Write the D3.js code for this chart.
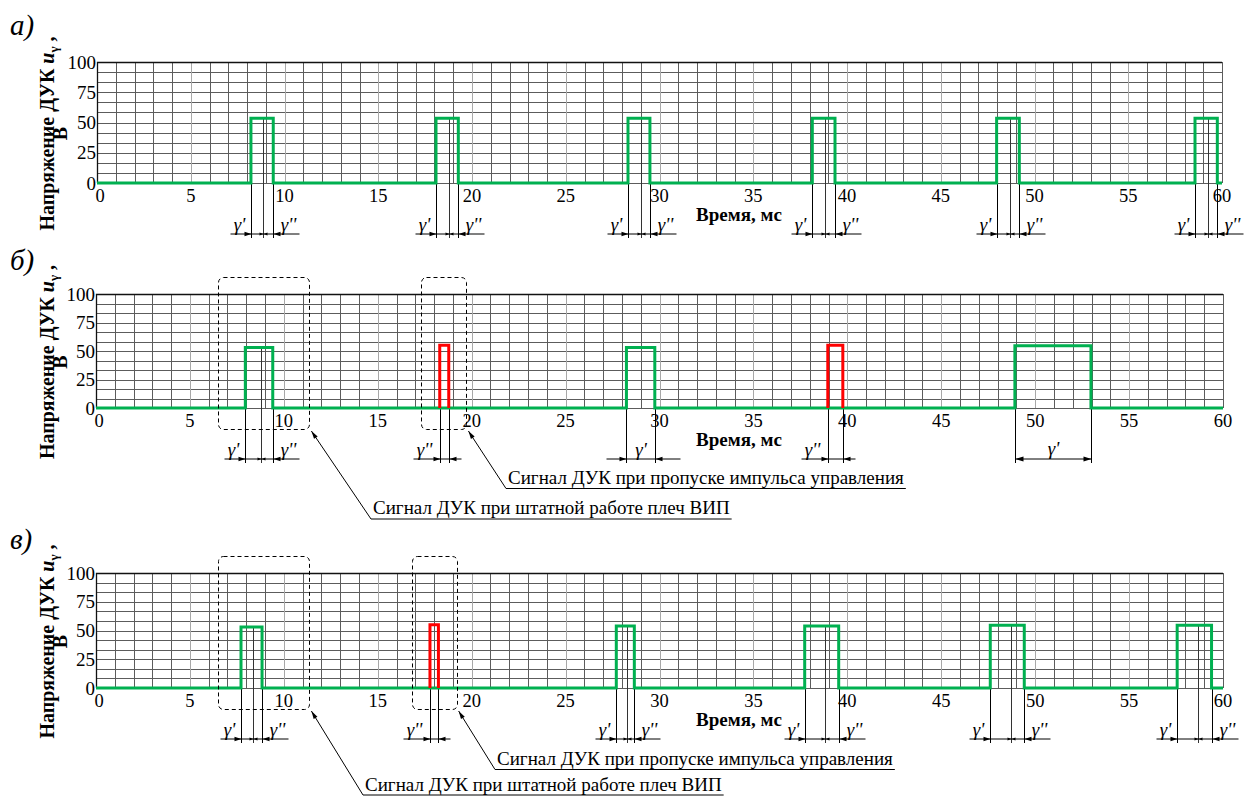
<!DOCTYPE html>
<html>
<head>
<meta charset="utf-8">
<script src="https://cdn.jsdelivr.net/npm/d3@7/dist/d3.min.js"></script>
<style>
  html, body { margin: 0; padding: 0; background: #fff; }
</style>
</head>
<body>
<svg id="chart" width="1257" height="798"></svg>
<script>
// ─── Data ─────────────────────────────────────────────────────────────────────
const xTicks = [0, 5, 10, 15, 20, 25, 30, 35, 40, 45, 50, 55, 60];
const yTicks = [0, 25, 50, 75, 100];
const gridRows = 12;   // 100 V split into 12 rows
const gridCols = 60;   // one column per ms

// pulses: start / end (ms), middle mark (ms), height (V), colour, how the γ dims are drawn
const pulsesA = [
  { t0: 8.21,  t1: 9.40,  mid: 8.87,  v: 53.5, c: 'g', dim: 'split' },
  { t0: 18.08, t1: 19.27, mid: 18.77, v: 53.5, c: 'g', dim: 'split' },
  { t0: 28.32, t1: 29.49, mid: 29.00, v: 53.5, c: 'g', dim: 'split' },
  { t0: 38.15, t1: 39.36, mid: 38.83, v: 53.5, c: 'g', dim: 'split' },
  { t0: 47.98, t1: 49.19, mid: 48.69, v: 53.5, c: 'g', dim: 'split' },
  { t0: 58.56, t1: 59.75, mid: 59.24, v: 53.5, c: 'g', dim: 'split' }
];
const pulsesB = [
  { t0: 7.95,  t1: 9.41,  mid: 8.79, v: 53, c: 'g', dim: 'split' },
  { t0: 18.30, t1: 18.78, mid: null, v: 55, c: 'r', dim: 'left2' },
  { t0: 28.24, t1: 29.75, mid: null, v: 53, c: 'g', dim: 'inner' },
  { t0: 38.96, t1: 39.76, mid: null, v: 55, c: 'r', dim: 'left2' },
  { t0: 48.92, t1: 52.97, mid: null, v: 54.5, c: 'g', dim: 'span' }
];
const pulsesC = [
  { t0: 7.72,  t1: 8.84,  mid: 8.34,  v: 53,   c: 'g', dim: 'split' },
  { t0: 17.78, t1: 18.23, mid: null,  v: 55,   c: 'r', dim: 'left2' },
  { t0: 27.70, t1: 28.66, mid: 28.25, v: 54,   c: 'g', dim: 'split' },
  { t0: 37.73, t1: 39.54, mid: 38.82, v: 54,   c: 'g', dim: 'split' },
  { t0: 47.61, t1: 49.42, mid: 48.71, v: 54.5, c: 'g', dim: 'split' },
  { t0: 57.56, t1: 59.39, mid: 58.65, v: 54.5, c: 'g', dim: 'split' }
];

// dashed frames (ms range) and the caption each one points to
const boxesB = [
  { x0: 6.51,  x1: 11.36, text: 'Сигнал ДУК при штатной работе плеч ВИП' },
  { x0: 17.32, x1: 19.72, text: 'Сигнал ДУК при пропуске импульса управления' }
];
const boxesC = [
  { x0: 6.51,  x1: 11.36, text: 'Сигнал ДУК при штатной работе плеч ВИП' },
  { x0: 16.81, x1: 19.20, text: 'Сигнал ДУК при пропуске импульса управления' }
];

// ─── Style ────────────────────────────────────────────────────────────────────
const GREEN = '#00b050';
const RED = '#ff0000';
const GRID_MINOR = '#5c5c5c';
const GRID_MAJOR = '#a8a8a8';
const FONT = "'Liberation Serif', 'Times New Roman', serif";

// ─── Layout per panel ─────────────────────────────────────────────────────────
const panels = [
  { letter: 'а)', letterY: 35,  top: 62,  bottom: 183, left: 97, right: 1222, pulses: pulsesA, boxes: [], notes: [] },
  { letter: 'б)', letterY: 270, top: 294, bottom: 408, left: 96, right: 1223, pulses: pulsesB, boxes: boxesB,
    notes: [ { tx: 373, base: 514, ul: 519 }, { tx: 508, base: 484, ul: 488.5 } ] },
  { letter: 'в)', letterY: 549, top: 573, bottom: 688, left: 96, right: 1223, pulses: pulsesC, boxes: boxesC,
    notes: [ { tx: 365, base: 791, ul: 795 }, { tx: 497, base: 765, ul: 769.5 } ] }
];

const svg = d3.select('#chart');
const crisp = v => Math.round(v) + 0.5;

// every text node gets its font through an inline style
function txt(parent, size) {
  return parent.append('text').style('font-family', FONT).style('font-size', size + 'px');
}

function arrowHead(g, tipX, tipY, dx, dy, len, hw) {
  const n = Math.hypot(dx, dy); dx /= n; dy /= n;
  const bx = tipX - dx * len, by = tipY - dy * len;
  g.append('path')
    .attr('d', `M${tipX},${tipY}L${bx - dy * hw},${by + dx * hw}L${bx + dy * hw},${by - dx * hw}Z`)
    .attr('fill', '#000');
}

function gammaText(g, x, y, primes) {
  txt(g, 19)
    .attr('x', x).attr('y', y)
    .attr('text-anchor', 'middle')
    .style('font-style', 'italic')
    .text('γ' + primes);
}

function drawPanel(p) {
  const x = d3.scaleLinear().domain([0, 60]).range([p.left, p.right]);
  const y = d3.scaleLinear().domain([0, 100]).range([p.bottom, p.top]);
  const g = svg.append('g');

  // grid
  const cols = d3.range(0, gridCols + 1);
  const rows = d3.range(0, gridRows + 1).map(i => i * 100 / gridRows);
  g.append('g').selectAll('line').data(rows).join('line')
    .attr('x1', x(0)).attr('x2', x(60))
    .attr('y1', d => crisp(y(d))).attr('y2', d => crisp(y(d)))
    .attr('stroke', GRID_MINOR).attr('stroke-width', 1);
  g.append('g').selectAll('line').data(cols).join('line')
    .attr('x1', d => crisp(x(d))).attr('x2', d => crisp(x(d)))
    .attr('y1', y(100)).attr('y2', y(0))
    .attr('stroke', d => (d % 5 === 0 && d !== 0 && d !== 60) ? GRID_MAJOR : GRID_MINOR)
    .attr('stroke-width', 1);
  // frame top + left
  g.append('path')
    .attr('d', `M${crisp(x(0))},${y(0)}V${crisp(y(100))}H${x(60)}`)
    .attr('fill', 'none').attr('stroke', '#111').attr('stroke-width', 1.3);

  // tick labels
  yTicks.forEach(d => {
    txt(g, 19).attr('x', x(0) - 1).attr('y', y(d)).attr('dy', '0.35em')
      .attr('text-anchor', 'end').text(d);
  });
  xTicks.forEach(d => {
    txt(g, 18.5).attr('x', x(d) + (d === 0 ? 3 : 0)).attr('y', y(0) + 19)
      .attr('text-anchor', 'middle').text(d);
  });

  // axis titles
  txt(g, 19)
    .attr('x', 739).attr('y', y(0) + 38)
    .attr('text-anchor', 'middle').style('font-weight', 'bold')
    .text('Время, мс');
  const cy = (p.top + p.bottom) / 2 + 11;
  const yl = txt(g, 20)
    .attr('transform', `translate(54,${cy}) rotate(-90)`)
    .attr('text-anchor', 'middle').style('font-weight', 'bold');
  yl.append('tspan').text('Напряжение ДУК ');
  yl.append('tspan').style('font-style', 'italic').text('u');
  yl.append('tspan').style('font-size', '13px').attr('dy', 4).text('γ');
  yl.append('tspan').attr('dy', -4).text(' ,');
  txt(g, 20)
    .attr('transform', `translate(67,${cy}) rotate(-90)`)
    .attr('text-anchor', 'middle').style('font-weight', 'bold')
    .text('В');

  // panel letter
  txt(svg, 29)
    .attr('x', 10).attr('y', p.letterY)
    .style('font-style', 'italic')
    .text(p.letter);

  // dimension lines under pulses
  const dimY = y(0) + 51;
  const dg = g.append('g').attr('stroke', '#000').attr('stroke-width', 1).attr('fill', 'none');
  p.pulses.forEach(d => {
    const x0 = crisp(x(d.t0)), x1 = crisp(x(d.t1));
    dg.append('line').attr('x1', x0).attr('x2', x0).attr('y1', y(0)).attr('y2', dimY + 4);
    dg.append('line').attr('x1', x1).attr('x2', x1).attr('y1', y(0)).attr('y2', dimY + 4);
    if (d.mid !== null) {
      const xm = crisp(x(d.mid));
      dg.append('line').attr('x1', xm).attr('x2', xm).attr('y1', y(d.v)).attr('y2', dimY + 4)
        .attr('stroke', '#333');
    }
    const ag = g.append('g');
    if (d.dim === 'split') {
      dg.append('line').attr('x1', x0 - 21).attr('x2', x1 + 26).attr('y1', dimY).attr('y2', dimY);
      arrowHead(ag, x0, dimY, 1, 0, 7, 2.2);
      arrowHead(ag, x1, dimY, -1, 0, 7, 2.2);
      const xm = crisp(x(d.mid));
      arrowHead(ag, xm, dimY, 1, 0, 4, 1.6);
      arrowHead(ag, xm, dimY, -1, 0, 4, 1.6);
      gammaText(g, x0 - 12, dimY - 3, "'");
      gammaText(g, x1 + 15, dimY - 3, "''");
    } else if (d.dim === 'left2') {
      dg.append('line').attr('x1', x0 - 27).attr('x2', x1 + 12).attr('y1', dimY).attr('y2', dimY);
      arrowHead(ag, x0, dimY, 1, 0, 7, 2.2);
      arrowHead(ag, x1, dimY, -1, 0, 7, 2.2);
      gammaText(g, x0 - 16, dimY - 3, "''");
    } else if (d.dim === 'inner') {
      dg.append('line').attr('x1', x0 - 20).attr('x2', x1 + 25).attr('y1', dimY).attr('y2', dimY);
      arrowHead(ag, x0, dimY, 1, 0, 7, 2.2);
      arrowHead(ag, x1, dimY, -1, 0, 7, 2.2);
      gammaText(g, (x0 + x1) / 2, dimY - 3, "'");
    } else if (d.dim === 'span') {
      dg.append('line').attr('x1', x0).attr('x2', x1).attr('y1', dimY).attr('y2', dimY);
      arrowHead(ag, x0, dimY, -1, 0, 8, 2.5);
      arrowHead(ag, x1, dimY, 1, 0, 8, 2.5);
      gammaText(g, (x0 + x1) / 2, dimY - 4, "'");
    }
  });

  // signal traces
  const line = d3.line().x(d => x(d[0])).y(d => y(d[1]));
  const greenPts = [[0, 0]];
  p.pulses.filter(d => d.c === 'g').forEach(d => {
    greenPts.push([d.t0, 0], [d.t0, d.v], [d.t1, d.v], [d.t1, 0]);
  });
  greenPts.push([60, 0]);
  g.append('path').datum(greenPts).attr('d', line)
    .attr('fill', 'none').attr('stroke', GREEN).attr('stroke-width', 3)
    .attr('stroke-linejoin', 'miter').attr('stroke-linecap', 'butt');
  p.pulses.filter(d => d.c === 'r').forEach(d => {
    g.append('path').datum([[d.t0, 0], [d.t0, d.v], [d.t1, d.v], [d.t1, 0]]).attr('d', line)
      .attr('fill', 'none').attr('stroke', RED).attr('stroke-width', 3)
      .attr('stroke-linejoin', 'miter');
  });

  // dashed frames + leader captions
  p.boxes.forEach((b, i) => {
    const bx0 = x(b.x0), bx1 = x(b.x1);
    const by0 = y(100) - 17, by1 = y(0) + 21;
    g.append('rect')
      .attr('x', crisp(bx0)).attr('y', crisp(by0))
      .attr('width', Math.round(bx1 - bx0)).attr('height', Math.round(by1 - by0))
      .attr('rx', 5).attr('ry', 5)
      .attr('fill', 'none').attr('stroke', '#000').attr('stroke-width', 1)
      .attr('stroke-dasharray', '4,3');
    const n = p.notes[i];
    const t = txt(g, 19)
      .attr('x', n.tx).attr('y', n.base)
      .text(b.text);
    const w = t.node().getComputedTextLength();
    const sx = bx1 + 2, sy = by1 + 2;
    g.append('path')
      .attr('d', `M${sx},${sy}L${n.tx - 2},${n.ul}H${n.tx + w + 2}`)
      .attr('fill', 'none').attr('stroke', '#000').attr('stroke-width', 1);
    arrowHead(g, sx, sy, sx - (n.tx - 2), sy - n.ul, 8, 2.2);
  });
}

panels.forEach(drawPanel);
</script>
</body>
</html>
